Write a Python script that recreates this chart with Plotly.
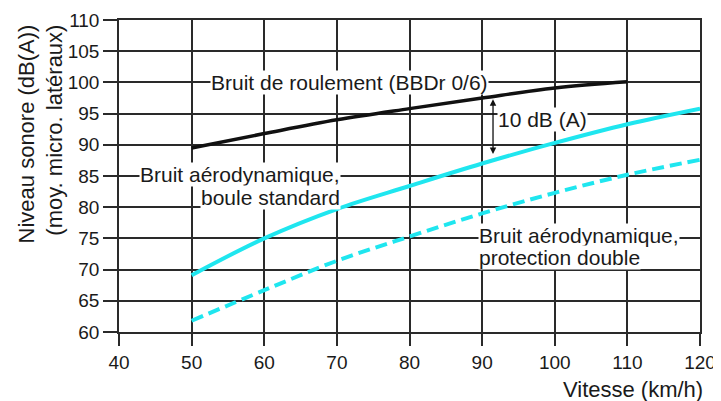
# Noise level vs speed: rolling noise and aerodynamic noise (two screens)
import plotly.graph_objects as go

# ── Data ──────────────────────────────────────────────────────────────────────
speed_roll  = [50, 60, 70, 80, 90, 100, 110]
roll_noise  = [89.5, 91.8, 94.0, 95.8, 97.5, 99.1, 100.1]

speed_aero  = [50, 60, 70, 80, 90, 100, 110, 120]
aero_std    = [69.1, 75.0, 79.7, 83.4, 87.0, 90.3, 93.3, 95.8]
aero_double = [61.8, 66.7, 71.4, 75.3, 79.0, 82.3, 85.2, 87.6]

x_ticks = [40, 50, 60, 70, 80, 90, 100, 110, 120]
y_ticks = [60, 65, 70, 75, 80, 85, 90, 95, 100, 105, 110]

# ── Style ─────────────────────────────────────────────────────────────────────
_CYAN  = "#1fe6ef"
_BLACK = "#111111"
_GRID  = "#2a2a2a"
_FAM   = "'Liberation Sans', Arial, Helvetica, sans-serif"
_FONT  = dict(family=_FAM, size=19, color="#1a1a1a")
_LBL   = dict(family=_FAM, size=21, color="#1a1a1a")
_TITLE = dict(family=_FAM, size=22, color="#1a1a1a")

fig = go.Figure()

fig.add_trace(go.Scatter(
    x=speed_roll, y=roll_noise, mode="lines",
    line=dict(color=_BLACK, width=3.5, shape="spline"),
    showlegend=False,
))
fig.add_trace(go.Scatter(
    x=speed_aero, y=aero_std, mode="lines",
    line=dict(color=_CYAN, width=4, shape="spline"),
    showlegend=False,
))
fig.add_trace(go.Scatter(
    x=speed_aero, y=aero_double, mode="lines",
    line=dict(color=_CYAN, width=4, shape="spline", dash="12px,6px"),
    showlegend=False,
))

annotations = [
    # curve labels (white box hides the grid behind the text)
    dict(x=71.8, y=100, text="Bruit de roulement (BBDr 0/6)", xanchor="center", yanchor="middle"),
    dict(x=92.1, y=94.1, text="10 dB (A)", xanchor="left", yanchor="middle"),
    dict(x=70.5, y=85.2, text="Bruit aérodynamique,", xanchor="right", yanchor="middle"),
    dict(x=70.5, y=81.6, text="boule standard", xanchor="right", yanchor="middle"),
    dict(x=89.4, y=75.4, text="Bruit aérodynamique,", xanchor="left", yanchor="middle"),
    dict(x=89.4, y=71.9, text="protection double", xanchor="left", yanchor="middle"),
]
for a in annotations:
    a.update(xref="x", yref="y", showarrow=False, font=_LBL,
             bgcolor="white", borderpad=0)

# double arrow showing the 10 dB(A) gap
annotations += [
    dict(x=91.5, y=97.3, ax=91.5, ay=88.3, xref="x", yref="y", axref="x", ayref="y",
         text="", showarrow=True, arrowhead=2, arrowsize=1, arrowwidth=1.3,
         arrowcolor=_BLACK, arrowside="end+start"),
    # axis titles
    dict(x=-0.135, y=0.635, xref="paper", yref="paper", textangle=-90,
         text="Niveau sonore (dB(A))<br>(moy. micro. latéraux)", align="right",
         showarrow=False, font=_TITLE, xanchor="center", yanchor="middle"),
    dict(x=1.008, y=-0.183, xref="paper", yref="paper", text="Vitesse (km/h)",
         showarrow=False, font=_TITLE, xanchor="right", yanchor="middle"),
]

# the page body adds an 8px offset, so the figure is 8px smaller than the window
fig.update_layout(
    width=713, height=393,
    font=_FONT,
    plot_bgcolor="white",
    paper_bgcolor="white",
    margin=dict(t=12, b=69, l=111, r=21),
    showlegend=False,
    xaxis=dict(
        range=[40, 120], tickvals=x_ticks, automargin=False,
        showgrid=True, gridcolor=_GRID, gridwidth=1.5,
        showline=True, linecolor=_GRID, linewidth=1.5, mirror=True,
        ticks="outside", ticklen=12, tickwidth=1.5, tickcolor=_GRID,
        zeroline=False, fixedrange=True,
    ),
    yaxis=dict(
        range=[60, 110], tickvals=y_ticks, automargin=False,
        showgrid=True, gridcolor=_GRID, gridwidth=1.5,
        showline=True, linecolor=_GRID, linewidth=1.5, mirror=True,
        ticks="outside", ticklen=14, tickwidth=1.5, tickcolor=_GRID,
        zeroline=False, fixedrange=True,
    ),
    annotations=annotations,
)

fig.write_html("out.html")
